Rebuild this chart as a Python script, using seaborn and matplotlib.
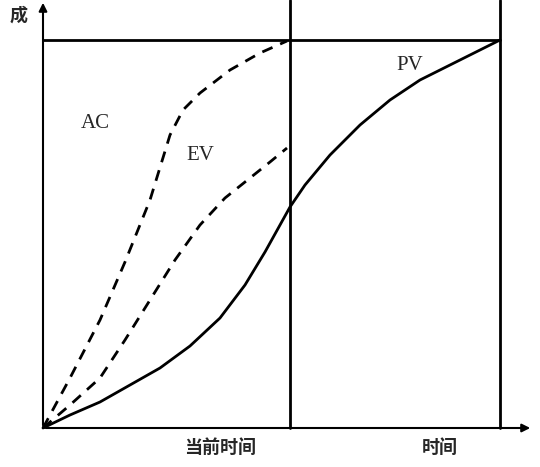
import matplotlib
matplotlib.use("Agg")
import matplotlib.pyplot as plt
import seaborn as sns

sns.set_style("white")
plt.rcParams["font.family"] = ["Liberation Serif", "Noto Sans CJK SC", "DejaVu Sans"]

# curves in picture units (x right, y up from the origin)
pv_x = [0, 27, 57, 87, 117, 147, 177, 202, 222, 237, 247, 262, 287, 317, 347, 377, 417, 457]
pv_y = [0, 13, 26, 43, 60, 82, 110, 143, 176, 203, 221, 243, 273, 303, 328, 348, 368, 388]
ev_x = [0, 27, 57, 82, 107, 132, 157, 182, 207, 227, 244]
ev_y = [0, 23, 50, 88, 128, 168, 203, 230, 250, 266, 280]
ac_x = [0, 27, 57, 82, 107, 127, 140, 157, 187, 217, 244]
ac_y = [0, 50, 108, 166, 228, 293, 318, 335, 358, 375, 387]

now_x = 247
end_x = 457
top_y = 388

fig = plt.figure(figsize=(5.4, 4.67), dpi=100)
ax = fig.add_axes([0, 0, 1, 1])
ax.set_xlim(-43, 497)
ax.set_ylim(-39, 428)
ax.axis("off")

sns.lineplot(x=pv_x, y=pv_y, ax=ax, color="black", lw=2, sort=False)
sns.lineplot(x=ev_x, y=ev_y, ax=ax, color="black", lw=2, ls=(0, (4, 3)), sort=False)
sns.lineplot(x=ac_x, y=ac_y, ax=ax, color="black", lw=2, ls=(0, (4, 3)), sort=False)

ax.plot([0, end_x], [top_y, top_y], color="black", lw=2)
ax.plot([now_x, now_x], [0, 428], color="black", lw=2)
ax.plot([end_x, end_x], [0, 428], color="black", lw=2)

arrow = dict(arrowstyle="-|>", color="black", lw=1.5, mutation_scale=12)
ax.annotate("", xy=(490, 0), xytext=(0, 0), arrowprops=arrow)
ax.annotate("", xy=(0, 428), xytext=(0, 0), arrowprops=arrow)

ax.text(-33, 413, "成", fontsize=13, fontweight="bold", family=["Noto Sans CJK SC"], va="center")
ax.text(177, -19, "当前时间", fontsize=13, fontweight="bold", family=["Noto Sans CJK SC"], va="center", ha="center")
ax.text(397, -19, "时间", fontsize=13, fontweight="bold", family=["Noto Sans CJK SC"], va="center", ha="center")
ax.text(52, 305, "AC", fontsize=15, va="center", ha="center")
ax.text(157, 273, "EV", fontsize=15, va="center", ha="center")
ax.text(367, 363, "PV", fontsize=15, va="center", ha="center")

fig.savefig("out.png", dpi=100)
